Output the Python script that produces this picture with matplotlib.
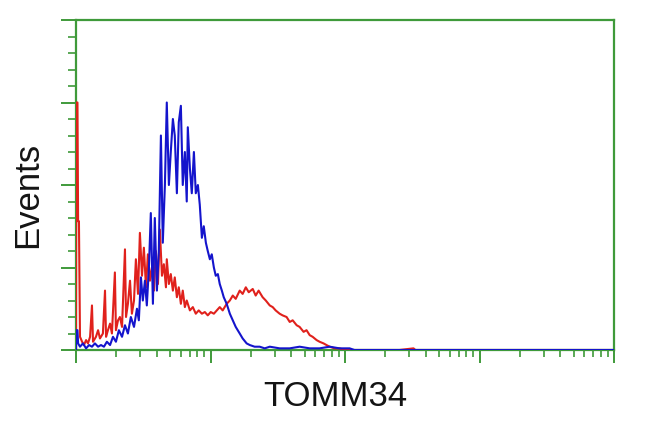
import matplotlib
matplotlib.use("Agg")
import matplotlib.pyplot as plt
from matplotlib.ticker import MultipleLocator, LogLocator, NullFormatter
import numpy as np

# channel (256 channels over 4 log decades) and event counts
red_channel = [0.0, 0.2, 0.7, 1.0, 1.4, 1.9, 2.9, 3.8, 4.8, 5.7, 6.7,
               7.6, 8.1, 9.5, 10.5, 11.4, 12.8, 13.8, 14.3, 15.2, 16.2,
               17.1, 18.5, 19.0, 20.0, 20.9, 21.9, 23.3, 23.8, 24.7, 25.7,
               26.6, 27.6, 28.5, 29.5, 30.4, 31.4, 32.3, 33.3, 34.2, 35.2,
               36.1, 37.1, 38.0, 39.0, 39.9, 40.9, 41.8, 42.8, 43.2, 44.2,
               45.1, 46.1, 47.0, 48.0, 48.9, 49.9, 50.8, 51.8, 52.7, 54.2,
               55.6, 57.0, 58.4, 59.9, 61.3, 62.7, 64.1, 65.6, 67.0, 68.4,
               69.8, 71.7, 73.2, 74.6, 76.0, 77.9, 79.3, 80.8, 82.2, 84.1,
               85.5, 86.9, 88.8, 90.3, 92.2, 93.6, 95.0, 96.9, 98.3, 100.2,
               101.7, 103.1, 105.0, 106.4, 108.3, 109.7, 111.2, 112.6, 114.5, 115.9,
               117.8, 119.2, 120.7, 123.0, 125.4, 127.8, 134.9, 153.9, 160.6, 161.5,
               177.7, 255.6]
red_count = [0, 150, 150, 78, 78, 8, 5, 3, 6, 4, 8,
             27, 5, 8, 12, 7, 10, 36, 8, 12, 16,
             10, 47, 12, 18, 20, 14, 61, 20, 28, 42,
             22, 30, 55, 34, 71, 45, 62, 38, 58, 42,
             50, 36, 60, 40, 73, 45, 52, 38, 55, 40,
             46, 36, 44, 32, 38, 28, 36, 26, 30, 24,
             26, 22, 24, 22, 23, 21, 23, 22, 24, 26,
             24, 28, 30, 33, 31, 36, 34, 38, 35, 37,
             33, 36, 32, 30, 27, 26, 24, 22, 21, 20,
             17, 18, 15, 14, 11, 12, 9, 8, 6, 5,
             4, 3, 2, 1, 1, 0, 0, 0, 1, 0,
             0, 0]

blue_channel = [0.0, 0.2, 0.7, 1.0, 1.9, 3.3, 4.8, 6.2, 7.6, 9.0, 10.5,
                11.9, 13.3, 14.7, 16.2, 17.6, 19.0, 20.4, 21.9, 23.3, 24.7,
                26.1, 27.6, 29.0, 29.9, 30.9, 31.8, 32.8, 33.7, 34.7, 35.6,
                36.6, 37.5, 38.5, 39.4, 40.4, 41.3, 42.3, 43.2, 44.2, 45.1,
                46.1, 47.0, 48.0, 48.9, 49.9, 50.8, 51.8, 52.7, 53.2, 54.2,
                55.1, 56.1, 57.0, 58.0, 58.9, 59.9, 60.8, 61.8, 62.7, 63.7,
                64.6, 65.6, 66.5, 67.5, 68.4, 69.4, 70.3, 71.7, 73.2, 74.6,
                76.0, 77.9, 79.3, 81.2, 82.7, 85.0, 87.4, 89.8, 92.2, 96.9,
                101.7, 106.4, 111.2, 115.9, 120.7, 125.4, 130.2, 132.5, 255.6]
blue_count = [0, 12, 12, 4, 2, 4, 1, 3, 2, 4, 2,
              3, 2, 5, 3, 8, 5, 12, 8, 15, 10,
              20, 14, 25, 18, 44, 30, 42, 27, 50, 83,
              28, 80, 36, 60, 130, 65, 100, 150, 100, 120,
              140, 130, 95, 138, 148, 100, 120, 90, 135, 110,
              95, 120, 95, 100, 88, 68, 75, 65, 60, 55,
              58, 50, 45, 46, 40, 36, 32, 28, 22, 18,
              14, 10, 7, 4, 3, 2, 2, 1, 2, 1,
              1, 2, 1, 1, 2, 1, 1, 0, 0]

x_label = "TOMM34"
y_label = "Events"

GREEN = "#3f9a3a"
RED = "#e0211c"
BLUE = "#1414cc"

plt.rcParams['font.family'] = ['Liberation Sans', 'DejaVu Sans']

fig = plt.figure(figsize=(6.5, 4.32), dpi=100)
ax = fig.add_axes([76 / 650, 1 - 350 / 432, (614 - 76) / 650, (350 - 20) / 432])

red_x = 10 ** (np.array(red_channel) / 64.0)
blue_x = 10 ** (np.array(blue_channel) / 64.0)
ax.plot(red_x, red_count, color=RED, lw=1.5, zorder=5)
ax.plot(blue_x, blue_count, color=BLUE, lw=1.5, zorder=6)

ax.set_xscale('log')
ax.set_xlim(1, 1e4)
ax.set_ylim(0, 200)
ax.xaxis.set_major_locator(LogLocator(base=10, numticks=10))
ax.xaxis.set_minor_locator(LogLocator(base=10, subs=np.arange(2, 10), numticks=50))
ax.xaxis.set_major_formatter(NullFormatter())
ax.xaxis.set_minor_formatter(NullFormatter())
ax.yaxis.set_major_locator(MultipleLocator(50))
ax.yaxis.set_minor_locator(MultipleLocator(10))
ax.yaxis.set_major_formatter(NullFormatter())

for sp in ax.spines.values():
    sp.set_color(GREEN)
    sp.set_linewidth(1.6)
    sp.set_zorder(4)

ax.tick_params(axis='x', which='major', direction='out', length=9, width=1.4, color=GREEN)
ax.tick_params(axis='x', which='minor', direction='out', length=5, width=1.2, color=GREEN)
ax.tick_params(axis='y', which='major', direction='out', length=11, width=1.4, color=GREEN)
ax.tick_params(axis='y', which='minor', direction='out', length=6, width=1.2, color=GREEN)

fig.text(28 / 650, 1 - 195 / 432, y_label, rotation=90, ha='center', va='center',
         fontsize=25, color='#141414')
fig.text(335 / 650, 1 - 396 / 432, x_label, ha='center', va='center',
         fontsize=25, color='#141414')

fig.savefig("out.png", dpi=100)
